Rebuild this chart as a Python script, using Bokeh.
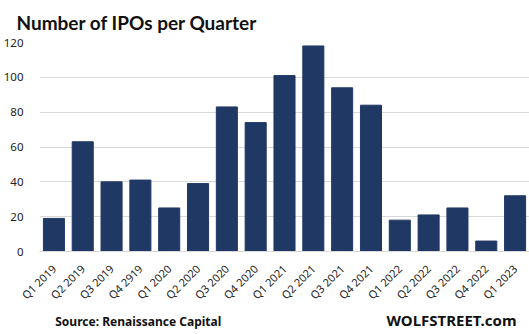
import math
from bokeh.plotting import figure
from bokeh.layouts import column
from bokeh.models import Range1d, ColumnDataSource, Title
from bokeh.core.properties import value
from bokeh.embed import file_html
from bokeh.resources import INLINE

quarters = ["Q1 2019", "Q2 2019", "Q3 2019", "Q4 2919", "Q1 2020", "Q2 2020",
            "Q3 2020", "Q4 2020", "Q1 2021", "Q2 2021", "Q3 2021", "Q4 2021",
            "Q1 2022", "Q2 2022", "Q3 2022", "Q4 2022", "Q1 2023"]
ipos = [19, 63, 40, 41, 25, 39, 83, 74, 101, 118, 94, 84, 18, 21, 25, 6, 32]
y_ticks = [0, 20, 40, 60, 80, 100, 120]

title_text = "Number of IPOs per Quarter"
source_text = "Source: Renaissance Capital"
brand_text = "WOLFSTREET.com"

FONT = "Noto Sans"
TFONT = "Lato"
BAR = "#203864"

src = ColumnDataSource(dict(q=quarters, v=ipos))

p = figure(x_range=quarters, y_range=Range1d(0, 120), width=529, height=310,
           output_backend="svg", toolbar_location=None,
           min_border_left=37, min_border_right=0, min_border_top=0,
           min_border_bottom=50)
p.vbar(x="q", top="v", width=0.73, source=src, color=BAR)

t = Title(text=title_text, align="left", offset=-23, text_font=TFONT,
          text_font_style="bold", text_font_size="19px", text_color="#111111",
          standoff=17)
p.add_layout(t, "above")

p.outline_line_color = None
p.background_fill_color = "white"
p.border_fill_color = "white"

p.xgrid.grid_line_color = None
p.ygrid.grid_line_color = "#d9d9d9"
p.ygrid.grid_line_width = 1
p.yaxis.ticker = y_ticks
p.yaxis.axis_line_color = None
p.yaxis.major_tick_line_color = None
p.yaxis.minor_tick_line_color = None
p.yaxis.major_label_standoff = 10
p.yaxis.major_label_text_font = FONT
p.yaxis.major_label_text_font_size = "11.5px"
p.yaxis.major_label_text_color = "#222222"

p.xaxis.axis_line_color = "#d9d9d9"
p.xaxis.major_tick_line_color = None
p.xaxis.minor_tick_line_color = None
p.xaxis.major_label_orientation = math.pi / 4
p.xaxis.major_label_standoff = 9
p.xaxis.major_label_text_font = FONT
p.xaxis.major_label_text_font_size = "11px"
p.xaxis.major_label_text_color = "#222222"

f = figure(x_range=Range1d(0, 529), y_range=Range1d(0, 24), width=529, height=24,
           output_backend="svg", toolbar_location=None,
           min_border=0, x_axis_type=None, y_axis_type=None)
f.outline_line_color = None
f.xgrid.grid_line_color = None
f.ygrid.grid_line_color = None
f.text(x=[17], y=[13], text=[source_text], text_font=value(FONT),
       text_font_style="bold", text_font_size="12px", text_color="#111111",
       text_baseline="middle")
f.text(x=[515], y=[14.5], text=[brand_text], text_font=value(FONT),
       text_font_style="bold", text_font_size="15px", text_color="#111111",
       text_baseline="middle", text_align="right")

open("out.html", "w").write(file_html(column(p, f, spacing=0), INLINE))
